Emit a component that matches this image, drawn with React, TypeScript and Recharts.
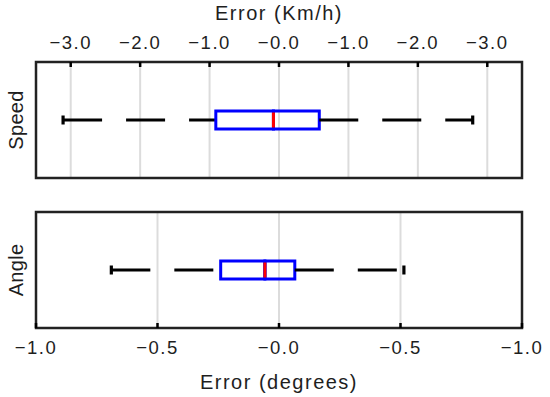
import { Bar, CartesianGrid, ComposedChart, ReferenceArea, XAxis, YAxis } from "recharts"

// box stats: [low whisker, q1, median, q3, high whisker]
const speedStats = [-3.11, -0.91, -0.08, 0.58, 2.79]
const angleStats = [-0.69, -0.24, -0.058, 0.065, 0.514]

const speedTicks = [-3, -2, -1, 0, 1, 2, 3]
const speedTickLabels = ["\u22123.0", "\u22122.0", "\u22121.0", "\u22120.0", "\u22121.0", "\u22122.0", "\u22123.0"]
const angleTicks = [-1, -0.5, 0, 0.5, 1]
const angleTickLabels = ["\u22121.0", "\u22120.5", "\u22120.0", "\u22120.5", "\u22121.0"]

const ink = "#1e1e1e"

const toRow = (name: string, s: number[]) => [
  { name, base: s[0], wLo: s[1] - s[0], bLo: s[2] - s[1], bHi: s[3] - s[2], wHi: s[4] - s[3] },
]

const Empty = () => <g />

const WhiskerLo = (p: any) => {
  const cy = p.y + p.height / 2
  return (
    <g>
      <line x1={p.x} x2={p.x + p.width} y1={cy} y2={cy} stroke="#000" strokeWidth={2.8} strokeDasharray="39 24" />
      <line x1={p.x} x2={p.x} y1={cy - 4.5} y2={cy + 4.5} stroke="#000" strokeWidth={3.2} />
    </g>
  )
}

const WhiskerHi = (p: any) => {
  const cy = p.y + p.height / 2
  const end = p.x + p.width
  return (
    <g>
      <line x1={p.x} x2={end} y1={cy} y2={cy} stroke="#000" strokeWidth={2.8} strokeDasharray="39 24" />
      <line x1={end} x2={end} y1={cy - 4.5} y2={cy + 4.5} stroke="#000" strokeWidth={3.2} />
    </g>
  )
}

const BoxLo = (p: any) => (
  <rect x={p.x} y={p.y} width={p.width} height={p.height} fill="none" stroke="#0000ff" strokeWidth={3} />
)

const BoxHi = (p: any) => (
  <g>
    <rect x={p.x} y={p.y} width={p.width} height={p.height} fill="none" stroke="#0000ff" strokeWidth={3} />
    <line x1={p.x} x2={p.x} y1={p.y + 1.5} y2={p.y + p.height - 1.5} stroke="#ff0000" strokeWidth={3} />
  </g>
)

function boxBars() {
  return [
    <Bar key="base" dataKey="base" stackId="s" shape={Empty} isAnimationActive={false} barSize={18} />,
    <Bar key="wLo" dataKey="wLo" stackId="s" shape={WhiskerLo} isAnimationActive={false} barSize={18} />,
    <Bar key="bLo" dataKey="bLo" stackId="s" shape={BoxLo} isAnimationActive={false} barSize={18} />,
    <Bar key="bHi" dataKey="bHi" stackId="s" shape={BoxHi} isAnimationActive={false} barSize={18} />,
    <Bar key="wHi" dataKey="wHi" stackId="s" shape={WhiskerHi} isAnimationActive={false} barSize={18} />,
  ]
}

export default function App() {
  return (
    <div
      style={{
        position: "absolute",
        left: 0,
        top: 0,
        width: 550,
        height: 397,
        background: "#fff",
        fontFamily: "'Liberation Sans', Arial, sans-serif",
        letterSpacing: 1.5,
      }}
    >
      <div style={{ position: "absolute", left: 0, top: 0 }}>
        <ComposedChart
          width={550}
          height={190}
          layout="vertical"
          data={toRow("Speed", speedStats)}
          margin={{ top: 0, right: 28, bottom: 12, left: 0 }}
        >
          <CartesianGrid horizontal={false} stroke="#dcdcdc" strokeWidth={2} />
          <XAxis
            type="number"
            orientation="top"
            domain={[-3.5, 3.5]}
            ticks={speedTicks}
            interval={0}
            allowDataOverflow
            height={62}
            axisLine={false}
            tickSize={-5}
            tickMargin={18}
            tickLine={{ stroke: "#000", strokeWidth: 2.5 }}
            tick={{ fill: ink, fontSize: 18.5 }}
            tickFormatter={(_v: number, i: number) => speedTickLabels[i]}
            label={{ value: "Error (Km/h)", position: "insideTop", offset: 6, fill: ink, fontSize: 20 }}
          />
          <XAxis
            xAxisId="b"
            type="number"
            orientation="bottom"
            domain={[-3.5, 3.5]}
            ticks={speedTicks}
            interval={0}
            allowDataOverflow
            height={0}
            axisLine={false}
            tickSize={-5}
            tickLine={{ stroke: "#000", strokeWidth: 2.5 }}
            tick={false}
          />
          <YAxis
            type="category"
            dataKey="name"
            width={36}
            axisLine={false}
            tickLine={false}
            tick={false}
            label={{ value: "Speed", angle: -90, position: "center", dx: -2, fill: ink, fontSize: 20, style: { letterSpacing: 0.3 } }}
          />
          {boxBars()}
          <ReferenceArea x1={-3.5} x2={3.5} fill="none" stroke="#222" strokeWidth={2.5} ifOverflow="visible" />
        </ComposedChart>
      </div>
      <div style={{ position: "absolute", left: 0, top: 190 }}>
        <ComposedChart
          width={550}
          height={207}
          layout="vertical"
          data={toRow("Angle", angleStats)}
          margin={{ top: 22, right: 28, bottom: 0, left: 0 }}
        >
          <CartesianGrid horizontal={false} stroke="#dcdcdc" strokeWidth={2} />
          <XAxis
            type="number"
            orientation="bottom"
            domain={[-1, 1]}
            ticks={angleTicks}
            interval={0}
            allowDataOverflow
            height={69}
            axisLine={false}
            tickSize={-5}
            tickMargin={18}
            tickLine={{ stroke: "#000", strokeWidth: 2.5 }}
            tick={{ fill: ink, fontSize: 18.5 }}
            tickFormatter={(_v: number, i: number) => angleTickLabels[i]}
            label={{ value: "Error (degrees)", position: "insideBottom", offset: 8, fill: ink, fontSize: 20 }}
          />
          <XAxis
            xAxisId="t"
            type="number"
            orientation="top"
            domain={[-1, 1]}
            ticks={angleTicks}
            interval={0}
            allowDataOverflow
            height={0}
            axisLine={false}
            tickSize={-5}
            tickLine={{ stroke: "#000", strokeWidth: 2.5 }}
            tick={false}
          />
          <YAxis
            type="category"
            dataKey="name"
            width={36}
            axisLine={false}
            tickLine={false}
            tick={false}
            label={{ value: "Angle", angle: -90, position: "center", dx: -2, fill: ink, fontSize: 20, style: { letterSpacing: 0.3 } }}
          />
          {boxBars()}
          <ReferenceArea x1={-1} x2={1} fill="none" stroke="#222" strokeWidth={2.5} ifOverflow="visible" />
        </ComposedChart>
      </div>
    </div>
  )
}
